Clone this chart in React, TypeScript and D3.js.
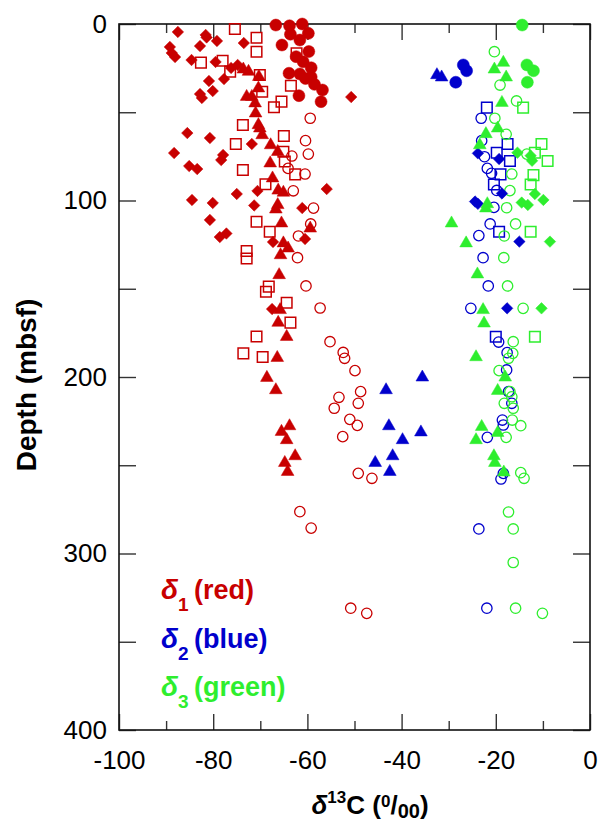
import React, { useEffect, useRef } from 'react';
import * as d3 from 'd3';

// [d13C, depth]
const redDiamonds: [number, number][] = [
  [-87.5, 4.5], [-81.6, 6.2], [-81.4, 7.6], [-79.2, 9.6], [-82.8, 12.5], [-73.5, 10.8], [-89.2, 13],
  [-88.8, 16.4], [-88.1, 18.7], [-84.6, 20.4], [-79.5, 21.5], [-76.2, 24.9], [-74.8, 23.2], [-80.9, 32.3],
  [-77.7, 31.2], [-82.8, 39.7], [-82.4, 41.9], [-80.1, 38], [-85.5, 61.8], [-80.7, 64.6], [-71.8, 68],
  [-88.3, 73.1], [-77.9, 74.2], [-78.3, 77.1], [-85.1, 80.5], [-83.4, 82.2], [-75, 96.3], [-70.6, 94.6],
  [-55.9, 93.5], [-50.7, 41.4], [-84.5, 99.7], [-80.1, 101.4], [-71.3, 102.8], [-61.1, 104.3], [-80.7, 111],
  [-78.6, 120.7], [-77.2, 118.7], [-67.3, 123.5], [-60.5, 121.8], [-67.5, 161.5]
];
const redCircles: [number, number][] = [
  [-66.7, 0.6], [-63.8, 1], [-61.1, 0], [-63.6, 5.8], [-61.6, 9.1], [-59.8, 5.3], [-65.4, 11.9],
  [-59.7, 15.6], [-62.4, 18.5], [-60.9, 21.4], [-59.2, 24.8], [-63.9, 27.9], [-61.6, 28.3], [-60.4, 30.9],
  [-59.2, 30], [-58.5, 34.2], [-56.8, 37.4], [-61.8, 40.6], [-57.1, 44]
];
const redSquares: [number, number][] = [
  [-75.4, 2.8], [-70.8, 7.8], [-70.8, 15.7], [-82.6, 21.9], [-78, 20.8], [-76.4, 27], [-70.1, 28.9],
  [-69.6, 38.4], [-63.5, 35], [-65.5, 44], [-67.1, 47.2], [-62.3, 16.6], [-73.7, 57.2], [-65, 63.5],
  [-75.2, 68], [-65.1, 72.4], [-64.8, 77.9], [-73.7, 82.7], [-62.6, 85.2], [-68.9, 90.8], [-70.8, 112],
  [-68, 117.7], [-72.9, 128.6], [-72.9, 132.9], [-68.2, 148.8], [-68.8, 151.7], [-64.4, 157.9],
  [-63.6, 169.2], [-70.8, 177.1], [-73.6, 186.6], [-69.5, 188.7]
];
const redTriangles: [number, number][] = [
  [-73.6, 25.7], [-72.5, 27], [-70.3, 29.9], [-70.4, 36.4], [-72.9, 41.2], [-71.8, 41.2], [-71.1, 44.9],
  [-71, 50.6], [-70.4, 57.2], [-70.1, 59.1], [-69.6, 62.9], [-67.8, 68.6], [-66.3, 72.4], [-67.9, 78.9],
  [-67.4, 87.4], [-66.2, 94.3], [-65.1, 95.5], [-66.3, 102.5], [-66.7, 105], [-65.5, 112.9], [-59.4, 115.8],
  [-65.1, 124.2], [-64.1, 127.1], [-65.7, 130.9], [-66, 142.2], [-65.8, 162], [-66.2, 169.2], [-64.4, 177.2],
  [-66.4, 189.1], [-68.6, 200.4], [-66.7, 207.4], [-63.8, 227.8], [-65.5, 231], [-64.4, 235.7],
  [-62.6, 244.8], [-64.8, 248.6], [-64.2, 253.7]
];
const redOpen: [number, number][] = [
  [-59.4, 53.4], [-60.4, 66.1], [-59.8, 73.7], [-63.3, 74.8], [-64.1, 81.8], [-60.5, 85], [-63, 94.5],
  [-58.7, 104.3], [-59.3, 113.3], [-61.9, 120.1], [-62.1, 132.4], [-60.3, 148.4], [-57.3, 160.9],
  [-55.2, 180], [-52.4, 186.1], [-52.1, 189.4], [-49.9, 196.4], [-48.7, 208.3], [-53.3, 211.5],
  [-49.2, 214.9], [-54.3, 217.7], [-51, 224], [-49.4, 227.4], [-52.5, 233.8], [-49.2, 254.6],
  [-46.3, 257.4], [-61.6, 276.3], [-59.2, 285.6], [-50.8, 331], [-47.4, 333.9]
];

const blueCircles: [number, number][] = [[-26.9, 23.2], [-26.2, 26.5], [-28.5, 33]];
const blueTriangles: [number, number][] = [
  [-32.5, 28.9], [-31.5, 30.2], [-35.6, 200.2], [-43.3, 207.4], [-42.7, 227.8], [-35.9, 231.3],
  [-39.8, 235.7], [-41.9, 244.8], [-45.6, 248.6], [-42.5, 253.7]
];
const blueSquares: [number, number][] = [
  [-21.9, 47.4], [-17.5, 68], [-19.8, 72.9], [-17, 77.6], [-19, 85.2], [-20.4, 90.9], [-19.3, 117.7], [-20, 177.2]
];
const blueOpen: [number, number][] = [
  [-23.1, 53.4], [-23, 66.1], [-22.4, 75.2], [-21.8, 81.8], [-20.9, 84.6], [-19.8, 94.3], [-20.4, 103.9],
  [-21.2, 113.3], [-23.6, 119.9], [-22.7, 132.4], [-21.6, 148.4], [-25.3, 161.1], [-19.4, 180.2],
  [-17.6, 186.2], [-17.7, 196], [-17.3, 208.3], [-16.6, 214.9], [-18.6, 224.4], [-18.4, 227.2],
  [-21.8, 234.2], [-18.4, 254.6], [-18.9, 257.8], [-23.6, 286.1], [-21.9, 331]
];
const blueDiamonds: [number, number][] = [
  [-23.8, 73.3], [-19.3, 76.5], [-18.7, 96], [-24.4, 100.6], [-23.8, 101.9], [-15, 123.3], [-17.6, 161.1]
];

const greenCircles: [number, number][] = [[-14.4, 0.6], [-13.4, 23.2], [-12, 26.5], [-13.3, 33]];
const greenTriangles: [number, number][] = [
  [-20.3, 25.7], [-18.4, 21.9], [-17.8, 30.2], [-18.7, 44.6], [-19.6, 59.1], [-22.1, 62.3], [-23.4, 68.6],
  [-21.8, 102], [-22.1, 104.4], [-29.4, 112.9], [-26.3, 124.2], [-23.9, 141.8], [-22.7, 162], [-22.5, 169.6],
  [-24.2, 188.7], [-18, 200.2], [-19.6, 207.8], [-23, 228.2], [-19.6, 231.6], [-24.2, 235.7], [-20.4, 244.8],
  [-20.2, 248.6], [-18.3, 254]
];
const greenOpen: [number, number][] = [
  [-20.3, 15.7], [-19.1, 34.6], [-15.6, 43.6], [-20.2, 53.4], [-17.8, 62.5], [-13.4, 73.7], [-16.6, 85],
  [-17, 94.4], [-17.7, 104.1], [-15.8, 113.3], [-18.2, 120.1], [-18.3, 132.4], [-17.5, 148.4], [-14.2, 161.1],
  [-16.3, 180], [-16.4, 186.6], [-17.3, 189.4], [-19.3, 196.4], [-17, 208.3], [-16.6, 211.2], [-18.2, 214.9],
  [-16.3, 217.7], [-16.5, 224.4], [-14.7, 227.6], [-17.8, 234.2], [-14.7, 254.2], [-14, 257.4], [-17.3, 276.5],
  [-16.3, 286.1], [-16.3, 305.1], [-15.8, 331], [-10.1, 333.9]
];
const greenSquares: [number, number][] = [
  [-14.2, 47.4], [-10.3, 68], [-11.7, 72.9], [-9, 77.6], [-12, 85.6], [-12.6, 90.9], [-12.6, 117.7], [-11.7, 177.2]
];
const greenDiamonds: [number, number][] = [
  [-15.4, 72.9], [-12.6, 74.6], [-12.3, 77.5], [-11.7, 96.3], [-9.9, 99.7], [-14.5, 101.2], [-13.2, 102.5],
  [-8.5, 123.3], [-10.3, 161.1]
];

const xMajor = [-100, -80, -60, -40, -20, 0];
const xMinor = [-90, -70, -50, -30, -10];
const yTicks = [0, 50, 100, 150, 200, 250, 300, 350, 400];
const yLabels = [0, 100, 200, 300, 400];

const RED = '#C80000';
const BLUE = '#0000CC';
const GREEN = '#2EEE2E';
const FONT = '"Liberation Sans", Arial, Helvetica, sans-serif';

export default function App() {
  const svgRef = useRef<SVGSVGElement>(null);

  useEffect(() => {
    const svg = d3.select(svgRef.current);
    svg.selectAll('*').remove();

    const x = d3.scaleLinear().domain([-100, 0]).range([119, 590]);
    const y = d3.scaleLinear().domain([0, 400]).range([24, 730]);

    // axes (ticks point inward)
    const styleAxis = (g: any) => {
      g.select('.domain').remove();
      g.selectAll('line').attr('stroke', '#333').attr('stroke-width', 1.4);
      g.selectAll('text').attr('fill', '#000').style('font-family', FONT).style('font-size', '26px');
    };

    svg.append('g').attr('transform', 'translate(0,730)')
      .call(d3.axisBottom(x).tickValues(xMajor).tickSizeInner(-16).tickSizeOuter(0).tickPadding(21)
        .tickFormat(d => String(d)))
      .call(styleAxis);
    svg.append('g').attr('transform', 'translate(0,730)')
      .call(d3.axisBottom(x).tickValues(xMinor).tickSizeInner(-9).tickSizeOuter(0).tickFormat(() => ''))
      .call(styleAxis);
    svg.append('g').attr('transform', 'translate(0,24)')
      .call(d3.axisTop(x).tickValues(xMajor).tickSizeInner(-16).tickSizeOuter(0).tickFormat(() => ''))
      .call(styleAxis);
    svg.append('g').attr('transform', 'translate(0,24)')
      .call(d3.axisTop(x).tickValues(xMinor).tickSizeInner(-9).tickSizeOuter(0).tickFormat(() => ''))
      .call(styleAxis);
    svg.append('g').attr('transform', 'translate(119,0)')
      .call(d3.axisLeft(y).tickValues(yTicks).tickSizeInner(-17).tickSizeOuter(0).tickPadding(12)
        .tickFormat(d => (yLabels.includes(+d) ? String(d) : '')))
      .call(styleAxis);
    svg.append('g').attr('transform', 'translate(590,0)')
      .call(d3.axisRight(y).tickValues(yTicks).tickSizeInner(-17).tickSizeOuter(0).tickFormat(() => ''))
      .call(styleAxis);

    // frame
    svg.append('rect')
      .attr('x', x(-100)).attr('y', y(0))
      .attr('width', x(0) - x(-100)).attr('height', y(400) - y(0))
      .attr('fill', 'none').attr('stroke', '#111').attr('stroke-width', 1.6);

    const plot = svg.append('g');

    const squarePath = d3.symbol().type(d3.symbolSquare).size(112)();
    const diamondPath = d3.symbol().type(d3.symbolSquare).size(66)();
    const trianglePath = d3.symbol().type(d3.symbolTriangle).size(70)();

    const drawPath = (data: [number, number][], path: string | null, color: string, filled: boolean, rot = 0) => {
      plot.append('g').selectAll('path')
        .data(data)
        .join('path')
        .attr('d', path)
        .attr('transform', d => `translate(${x(d[0])},${y(d[1])}) rotate(${rot})`)
        .attr('fill', filled ? color : 'none')
        .attr('stroke', color)
        .attr('stroke-width', filled ? 0.5 : 1.5);
    };
    const drawCircles = (data: [number, number][], color: string, filled: boolean) => {
      plot.append('g').selectAll('circle')
        .data(data)
        .join('circle')
        .attr('cx', d => x(d[0]))
        .attr('cy', d => y(d[1]))
        .attr('r', filled ? 6 : 5.2)
        .attr('fill', filled ? color : 'none')
        .attr('stroke', color)
        .attr('stroke-width', filled ? 0.5 : 1.3);
    };

    // open markers first, filled on top
    drawPath(redSquares, squarePath, RED, false);
    drawCircles(redOpen, RED, false);
    drawPath(blueSquares, squarePath, BLUE, false);
    drawCircles(blueOpen, BLUE, false);
    drawPath(greenSquares, squarePath, GREEN, false);
    drawCircles(greenOpen, GREEN, false);

    drawPath(redDiamonds, diamondPath, RED, true, 45);
    drawCircles(redCircles, RED, true);
    drawPath(redTriangles, trianglePath, RED, true);
    drawPath(blueDiamonds, diamondPath, BLUE, true, 45);
    drawCircles(blueCircles, BLUE, true);
    drawPath(blueTriangles, trianglePath, BLUE, true);
    drawPath(greenDiamonds, diamondPath, GREEN, true, 45);
    drawCircles(greenCircles, GREEN, true);
    drawPath(greenTriangles, trianglePath, GREEN, true);

    // y label
    svg.append('text')
      .attr('transform', 'translate(36,385) rotate(-90)')
      .attr('text-anchor', 'middle')
      .style('font-family', FONT).style('font-size', '28px').style('font-weight', 'bold')
      .text('Depth (mbsf)');

    // x label: δ13C (0/00)
    const xl = svg.append('text')
      .attr('x', 370).attr('y', 814)
      .attr('text-anchor', 'middle')
      .style('font-family', FONT).style('font-size', '26px').style('font-weight', 'bold');
    xl.append('tspan').style('font-style', 'italic').text('δ');
    xl.append('tspan').attr('dy', -11).style('font-size', '17px').text('13');
    xl.append('tspan').attr('dy', 11).text('C (');
    xl.append('tspan').attr('dy', -7).style('font-size', '17px').text('0');
    xl.append('tspan').attr('dy', 7).text('/');
    xl.append('tspan').attr('dy', 4).style('font-size', '20px').text('00');
    xl.append('tspan').attr('dy', -4).text(')');

    // legend
    const legendRows = [
      { sub: '1', label: '(red)', color: RED },
      { sub: '2', label: '(blue)', color: BLUE },
      { sub: '3', label: '(green)', color: GREEN }
    ];
    legendRows.forEach((r, i) => {
      const by = 599 + i * 48.5;
      const t = svg.append('text')
        .attr('x', 161).attr('y', by)
        .attr('fill', r.color)
        .style('font-family', FONT).style('font-weight', 'bold').style('font-size', '28px');
      t.append('tspan').style('font-style', 'italic').text('δ');
      t.append('tspan').attr('dy', 12).style('font-size', '19px').text(r.sub);
      svg.append('text')
        .attr('x', 194).attr('y', by)
        .attr('fill', r.color)
        .style('font-family', FONT).style('font-weight', 'bold').style('font-size', '27px')
        .text(r.label);
    });
  }, []);

  return (
    <div style={{ position: 'absolute', left: 0, top: 0 }}>
      <svg ref={svgRef} width={599} height={825} style={{ display: 'block', background: '#fff' }} />
    </div>
  );
}
